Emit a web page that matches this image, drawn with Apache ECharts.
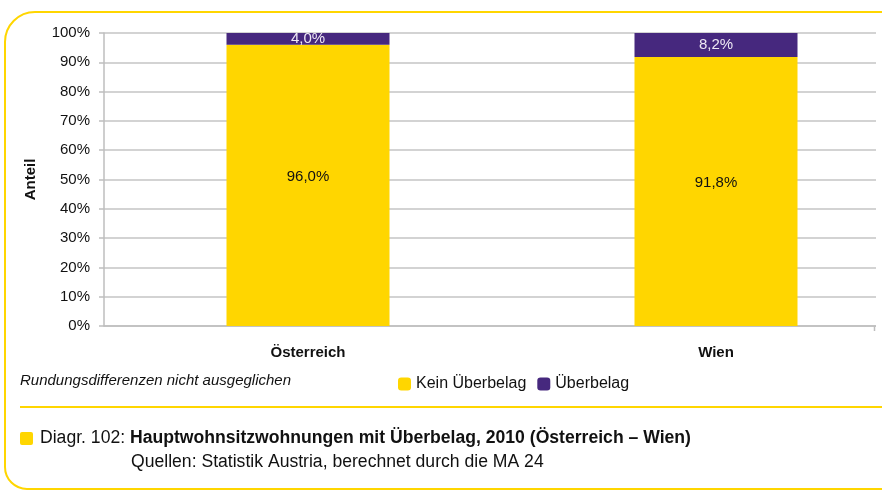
<!DOCTYPE html>
<html lang="de">
<head>
    <meta charset="UTF-8">
    <title>Hauptwohnsitzwohnungen mit Überbelag</title>
    <script src="https://cdn.jsdelivr.net/npm/echarts@6/dist/echarts.min.js"></script>
    <style>
        body { margin: 0; background: #fff; }
    </style>
</head>
<body>
    <div id="main" style="width: 882px;height:491px;"></div>
    <script type="text/javascript">
        var categories = ['Österreich', 'Wien'];
        var keinUeberbelag = [96.0, 91.8];
        var ueberbelag = [4.0, 8.2];
        var yTicks = [0, 10, 20, 30, 40, 50, 60, 70, 80, 90, 100];

        var FONT = '"Liberation Sans Narrow", "Arial Narrow", "Liberation Sans", sans-serif';
        var YELLOW = '#FFD600';
        var PURPLE = '#46287E';

        function pct(v) {
            return v.toFixed(1).replace('.', ',') + '%';
        }

        var myChart = echarts.init(document.getElementById('main'));
        var option = {
            animation: false,
            textStyle: { fontFamily: FONT },
            grid: { left: 104, top: 33, width: 816, height: 293, outerBoundsMode: 'none' },
            legend: {
                left: 393, top: 371,
                icon: 'roundRect',
                itemWidth: 13, itemHeight: 13, itemGap: 11,
                textStyle: { fontFamily: FONT, fontSize: 16, color: '#111' },
                data: ['Kein Überbelag', 'Überbelag']
            },
            xAxis: {
                type: 'category',
                data: categories,
                axisLine: { lineStyle: { color: '#BEBEBE', width: 1.5 } },
                axisTick: { length: 5, lineStyle: { color: '#BEBEBE', width: 1.5 } },
                axisLabel: { margin: 19, fontSize: 15, fontWeight: 'bold', color: '#111', fontFamily: FONT }
            },
            yAxis: {
                type: 'value',
                min: yTicks[0], max: yTicks[yTicks.length - 1], interval: 10,
                name: 'Anteil',
                nameLocation: 'middle',
                nameGap: 66,
                nameTextStyle: { fontSize: 15, fontWeight: 'bold', color: '#111', fontFamily: FONT },
                axisLine: { show: true, lineStyle: { color: '#BEBEBE', width: 1.5 } },
                axisTick: { show: true, length: 5, lineStyle: { color: '#BEBEBE', width: 1.5 } },
                axisLabel: { margin: 14, fontSize: 15, color: '#111', fontFamily: FONT, formatter: '{value}%' },
                splitLine: { lineStyle: { color: '#C4C4C4', width: 1.5 } }
            },
            series: [
                {
                    name: 'Kein Überbelag',
                    type: 'bar',
                    stack: 'total',
                    barWidth: 163,
                    data: keinUeberbelag,
                    itemStyle: { color: YELLOW },
                    label: {
                        show: true, position: 'inside', offset: [0, -9], fontSize: 15, color: '#111', fontFamily: FONT,
                        formatter: function (p) { return pct(p.value); }
                    }
                },
                {
                    name: 'Überbelag',
                    type: 'bar',
                    stack: 'total',
                    barWidth: 163,
                    data: ueberbelag,
                    itemStyle: { color: PURPLE },
                    label: {
                        show: true, position: 'inside', fontSize: 15, color: '#EEE8F4', fontFamily: FONT,
                        formatter: function (p) { return pct(p.value); }
                    }
                }
            ],
            graphic: [
                // hide grid and axis beyond the right end of the plot
                { type: 'rect', z: 100, shape: { x: 876, y: 25, width: 10, height: 310 }, style: { fill: '#fff' } },
                { type: 'line', z: 100, shape: { x1: 874.5, y1: 326, x2: 874.5, y2: 331 },
                  style: { stroke: '#BEBEBE', lineWidth: 1.5 } },
                // frame
                { type: 'rect', z: 101, shape: { x: 5, y: 12, width: 920, height: 477, r: [30, 0, 0, 22] },
                  style: { fill: 'none', stroke: YELLOW, lineWidth: 2 } },
                { type: 'line', z: 101, shape: { x1: 20, y1: 407, x2: 882, y2: 407 },
                  style: { stroke: YELLOW, lineWidth: 2 } },
                { type: 'text', left: 20, top: 373,
                  style: { text: 'Rundungsdifferenzen nicht ausgeglichen', font: 'italic 15px ' + FONT, fill: '#111' } },
                { type: 'rect', shape: { x: 20, y: 432, width: 13, height: 13, r: 2 }, style: { fill: YELLOW } },
                { type: 'text', left: 40, top: 429,
                  style: { rich: { n: { font: '17.6px ' + FONT, fill: '#111' }, b: { font: 'bold 17.6px ' + FONT, fill: '#111' } },
                           text: '{n|Diagr. 102: }{b|Hauptwohnsitzwohnungen mit Überbelag, 2010 (Österreich – Wien)}' } },
                { type: 'text', left: 131, top: 453,
                  style: { text: 'Quellen: Statistik Austria, berechnet durch die MA 24', font: '17.6px ' + FONT, fill: '#111' } }
            ]
        };
        myChart.setOption(option);
    </script>
</body>
</html>
